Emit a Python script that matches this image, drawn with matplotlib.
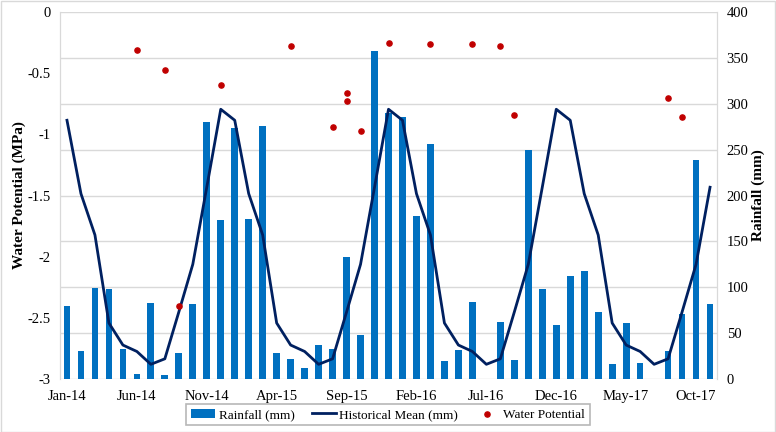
import matplotlib
matplotlib.use("Agg")
import matplotlib.pyplot as plt
import numpy as np
from matplotlib.patches import Rectangle

plt.rcParams['font.family'] = ['Liberation Serif', 'DejaVu Serif']

# monthly rainfall Jan-14 .. Nov-17 (nan = no record)
rainfall = [80, 30, 99, 98, 33, 5, 83, 4, 28, 82, 280, 173,
            274, 174, 276, 28, 22, 12, 37, 33, 133, 48, 358, 290,
            286, 178, 256, 20, 32, 84, np.nan, 62, 21, 250, 98, 59,
            112, 118, 73, 16, 61, 17, np.nan, 31, 71, 239, 82]
hist_mean = [282, 202, 157, 61, 37, 30, 16, 22, 73, 125, 209, 294,
             282, 202, 157, 61, 37, 30, 16, 22, 73, 125, 209, 294,
             282, 202, 157, 61, 37, 30, 16, 22, 73, 125, 209, 294,
             282, 202, 157, 61, 37, 30, 16, 22, 73, 125, 209]
# water potential measurements (month index, MPa)
wp_month = [5, 7, 8, 11, 16, 19, 20, 20, 21, 23, 26, 29, 31, 32, 43, 44]
wp_value = [-0.31, -0.47, -2.40, -0.60, -0.28, -0.94, -0.66, -0.73,
            -0.97, -0.25, -0.26, -0.26, -0.28, -0.84, -0.70, -0.86]
tick_labels = ['Jan-14', 'Jun-14', 'Nov-14', 'Apr-15', 'Sep-15',
               'Feb-16', 'Jul-16', 'Dec-16', 'May-17', 'Oct-17']

x = np.arange(len(rainfall))

fig = plt.figure(figsize=(7.76, 4.32), dpi=100)
ax2 = fig.add_axes([0.0773, 0.1227, 0.8467, 0.8495])  # rainfall (right)
ax = ax2.twinx()                                       # water potential (left)
ax.yaxis.tick_left()
ax.yaxis.set_label_position('left')
ax2.yaxis.tick_right()
ax2.yaxis.set_label_position('right')

bars = ax2.bar(x, rainfall, width=0.48, color='#0070C0', label='Rainfall (mm)', zorder=2)
line, = ax2.plot(x, hist_mean, color='#002060', lw=2, label='Historical Mean (mm)', zorder=3)
ax2.set_ylim(0, 400)
ax2.set_yticks(np.arange(0, 401, 50))
ax2.set_xlim(-0.5, len(rainfall) - 0.5)
ax2.grid(axis='y', color='#D9D9D9', lw=1, zorder=0)
ax2.set_axisbelow(True)
ax2.set_ylabel('Rainfall (mm)', fontsize=11, fontweight='bold', labelpad=2)

pts = ax.scatter(wp_month, wp_value, s=14, color='#C00000', label='Water Potential', zorder=4)
ax.set_ylim(-3, 0)
ax.set_yticks([0, -0.5, -1, -1.5, -2, -2.5, -3])
ax.set_yticklabels(['0', '-0.5', '-1', '-1.5', '-2', '-2.5', '-3'])
ax.set_ylabel('Water Potential (MPa)', fontsize=11, fontweight='bold', labelpad=1)

ax2.set_xticks(x[::5])
ax2.set_xticklabels(tick_labels)

for a in (ax, ax2):
    a.tick_params(axis='y', length=0, labelsize=10.5, pad=7)
    a.tick_params(axis='x', length=0, labelsize=10.5, pad=8)
    for s in a.spines.values():
        s.set_color('#D9D9D9')
    a.spines['top'].set_visible(False)
    a.spines['bottom'].set_visible(False)

leg = fig.legend([bars, line, pts], ['Rainfall (mm)', 'Historical Mean (mm)', 'Water Potential'],
                 loc='center', bbox_to_anchor=(0.5, 0.04), ncol=3, fontsize=9.5,
                 frameon=True, fancybox=False, edgecolor='#A6A6A6',
                 handlelength=1.8, columnspacing=1.3, handletextpad=0.3, borderpad=0.35)
leg.get_frame().set_linewidth(1.2)

fig.patches.append(Rectangle((0.001, 0.001), 0.998, 0.997, transform=fig.transFigure,
                             fill=False, edgecolor='#D9D9D9', lw=1))

fig.savefig('out.png', dpi=100)
